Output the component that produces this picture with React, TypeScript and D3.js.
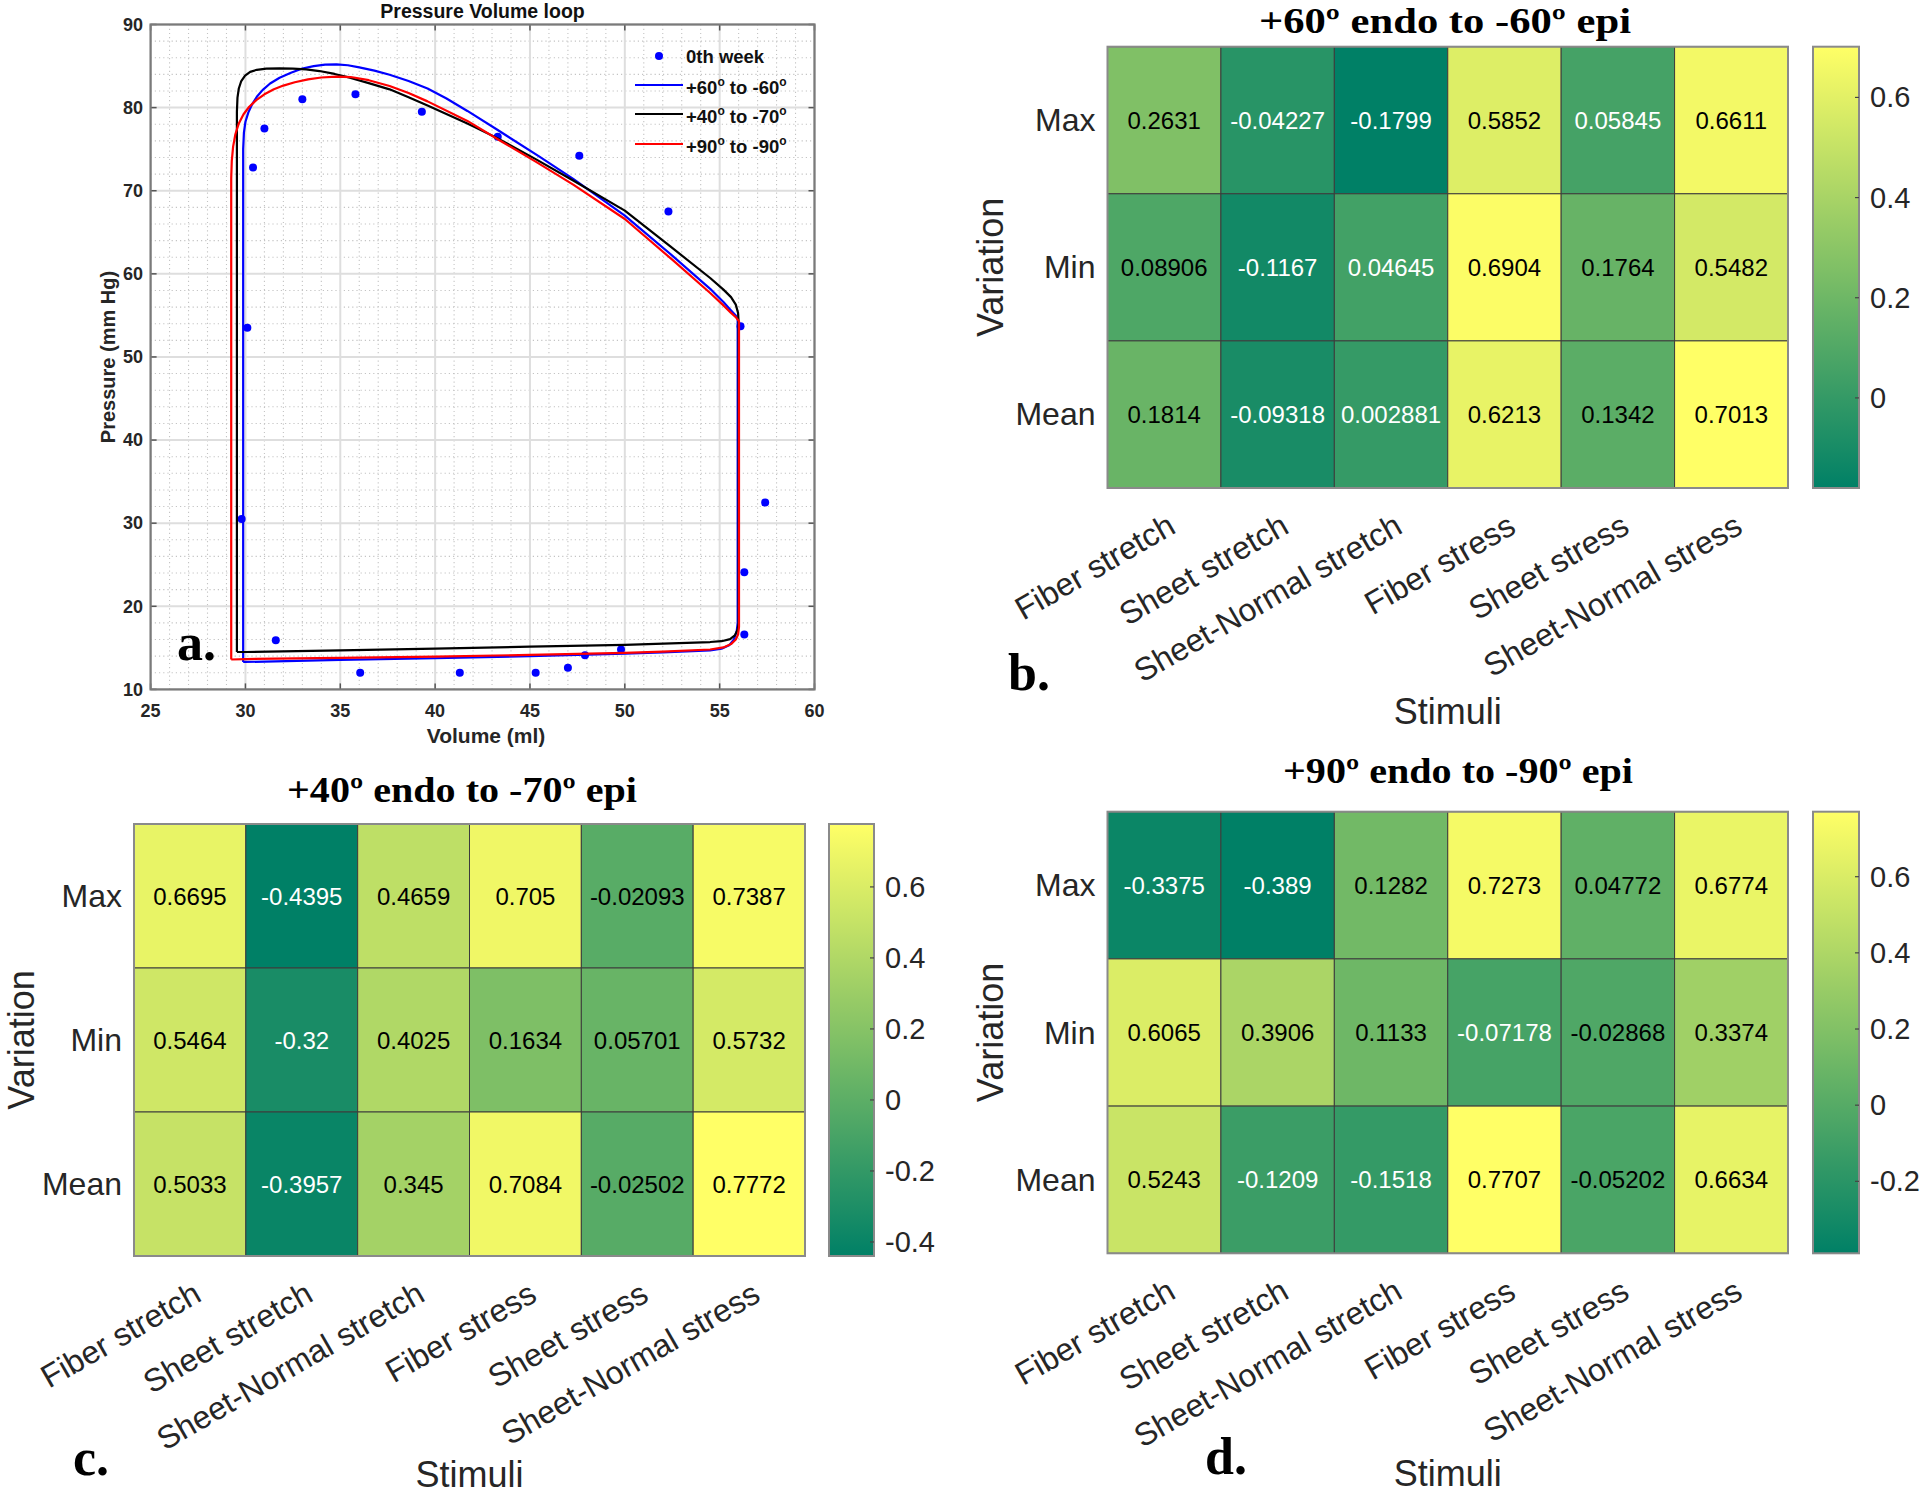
import React from "react";
import * as d3 from "d3";

// ---------- Panel a data ----------
const VOLUME_TICKS = [25, 30, 35, 40, 45, 50, 55, 60];
const PRESSURE_TICKS = [10, 20, 30, 40, 50, 60, 70, 80, 90];
const VOLUME_MINOR = d3.range(25, 61, 1);
const PRESSURE_MINOR = d3.range(10, 91, 2);

const week0Volume = [29.8, 30.1, 30.4, 31.0, 33.0, 35.8, 39.3, 43.3, 47.6, 52.3, 56.1, 57.4, 56.3, 56.3, 49.8, 47.9, 47.0, 45.3, 41.3, 36.05, 31.6];
const week0Pressure = [30.5, 53.5, 72.8, 77.5, 81.0, 81.6, 79.5, 76.5, 74.2, 67.5, 53.7, 32.5, 24.1, 16.6, 14.8, 14.1, 12.6, 12.0, 12.0, 12.0, 15.9];

const blueV = [29.88, 29.88, 29.92, 30.0, 30.15, 30.35, 30.6, 30.9, 31.3, 31.8, 32.4, 33.0, 33.6, 34.2, 34.8, 35.4, 36.0, 36.8, 37.6, 38.6, 39.6, 40.6, 41.7, 43.3, 45.5, 47.3, 50.0, 52.5, 54.5, 55.2, 55.6, 55.85, 55.95, 55.95, 55.9, 55.75, 55.5, 55.1, 54.5, 52.0, 50.0, 45.0, 40.0, 35.0, 30.0, 29.88];
const blueP = [13.3, 75.0, 77.0, 78.3, 79.4, 80.4, 81.3, 82.1, 82.9, 83.6, 84.2, 84.7, 85.0, 85.17, 85.2, 85.1, 84.85, 84.45, 83.95, 83.2, 82.3, 81.1, 79.6, 77.3, 74.1, 71.4, 67.0, 62.2, 58.2, 56.6, 55.6, 55.0, 54.5, 18.0, 17.0, 16.0, 15.3, 14.9, 14.7, 14.45, 14.3, 14.0, 13.75, 13.55, 13.3, 13.3];

const blackV = [29.55, 29.55, 29.58, 29.65, 29.78, 29.98, 30.25, 30.6, 31.1, 31.8, 32.5, 33.2, 33.9, 34.7, 35.5, 36.5, 37.6, 38.6, 39.6, 41.7, 43.3, 45.3, 47.3, 50.0, 52.4, 54.5, 55.2, 55.6, 55.85, 55.97, 56.0, 56.0, 55.95, 55.8, 55.55, 55.1, 54.5, 50.0, 45.0, 40.0, 35.0, 30.0, 29.55];
const blackP = [14.5, 79.5, 81.2, 82.3, 83.2, 83.85, 84.3, 84.55, 84.68, 84.72, 84.7, 84.6, 84.4, 84.05, 83.6, 82.95, 82.2, 81.25, 80.25, 78.1, 76.3, 73.8, 71.2, 67.6, 63.3, 59.5, 58.1, 57.2, 56.3, 55.3, 54.2, 18.0, 17.2, 16.5, 16.05, 15.8, 15.7, 15.35, 15.15, 14.9, 14.7, 14.5, 14.5];

const redV = [29.25, 29.25, 29.28, 29.35, 29.47, 29.65, 29.9, 30.2, 30.57, 31.0, 31.5, 32.0, 32.6, 33.3, 34.0, 34.8, 35.55, 36.5, 37.6, 38.6, 39.6, 41.7, 43.3, 45.3, 47.3, 50.0, 52.5, 54.5, 55.2, 55.6, 55.85, 56.02, 56.02, 55.97, 55.85, 55.6, 55.2, 54.5, 52.0, 50.0, 45.0, 40.0, 35.0, 30.0, 29.25];
const redP = [13.6, 71.5, 73.6, 75.3, 76.8, 78.1, 79.2, 80.1, 80.9, 81.6, 82.2, 82.65, 83.05, 83.4, 83.62, 83.72, 83.68, 83.3, 82.6, 81.75, 80.75, 78.4, 76.2, 73.5, 70.7, 66.6, 61.7, 57.7, 56.2, 55.3, 54.8, 54.3, 17.5, 16.6, 16.0, 15.45, 15.05, 14.8, 14.55, 14.4, 14.15, 13.95, 13.8, 13.65, 13.6];

// ---------- Heatmap data ----------
const STIMULI = ["Fiber stretch", "Sheet stretch", "Sheet-Normal stretch", "Fiber stress", "Sheet stress", "Sheet-Normal stress"];
const VARIATIONS = ["Max", "Min", "Mean"];

const valuesB = [
  [0.2631, -0.04227, -0.1799, 0.5852, 0.05845, 0.6611],
  [0.08906, -0.1167, 0.04645, 0.6904, 0.1764, 0.5482],
  [0.1814, -0.09318, 0.002881, 0.6213, 0.1342, 0.7013],
];
const valuesC = [
  [0.6695, -0.4395, 0.4659, 0.705, -0.02093, 0.7387],
  [0.5464, -0.32, 0.4025, 0.1634, 0.05701, 0.5732],
  [0.5033, -0.3957, 0.345, 0.7084, -0.02502, 0.7772],
];
const valuesD = [
  [-0.3375, -0.389, 0.1282, 0.7273, 0.04772, 0.6774],
  [0.6065, 0.3906, 0.1133, -0.07178, -0.02868, 0.3374],
  [0.5243, -0.1209, -0.1518, 0.7707, -0.05202, 0.6634],
];
const ticksB = [0, 0.2, 0.4, 0.6];
const ticksC = [-0.4, -0.2, 0, 0.2, 0.4, 0.6];
const ticksD = [-0.2, 0, 0.2, 0.4, 0.6];

const SANS = "'Liberation Sans', Arial, Helvetica, sans-serif";
const SERIF = "'Liberation Serif', 'Times New Roman', serif";
const LOW = "rgb(0,128,102)";
const HIGH = "rgb(255,255,102)";

function PVLoop() {
  const x = d3.scaleLinear().domain([25, 60]).range([150.6, 814.5]);
  const y = d3.scaleLinear().domain([10, 90]).range([689.4, 24.5]);
  const mk = (V: number[], P: number[]) =>
    d3.line<number>().x((i) => x(V[i])).y((i) => y(P[i])).curve(d3.curveLinear)(d3.range(V.length)) || "";
  const [x0, x1] = x.range();
  const [y0, y1] = [y(10), y(90)];
  const legendRows = [56, 85, 114, 144];
  return (
    <g>
      {/* minor grid */}
      {VOLUME_MINOR.filter((v) => v % 5 !== 0).map((v) => (
        <line key={"mx" + v} x1={x(v)} x2={x(v)} y1={y1} y2={y0} stroke="#c4c4c4" strokeWidth={1.1} strokeDasharray="1.2,3" />
      ))}
      {PRESSURE_MINOR.filter((p) => p % 10 !== 0).map((p) => (
        <line key={"my" + p} x1={x0} x2={x1} y1={y(p)} y2={y(p)} stroke="#c4c4c4" strokeWidth={1.1} strokeDasharray="1.2,3" />
      ))}
      {/* major grid */}
      {VOLUME_TICKS.map((v) => (
        <line key={"gx" + v} x1={x(v)} x2={x(v)} y1={y1} y2={y0} stroke="#dedede" strokeWidth={2} />
      ))}
      {PRESSURE_TICKS.map((p) => (
        <line key={"gy" + p} x1={x0} x2={x1} y1={y(p)} y2={y(p)} stroke="#dedede" strokeWidth={2} />
      ))}
      {/* ticks on all sides */}
      {VOLUME_TICKS.map((v) => (
        <g key={"tx" + v}>
          <line x1={x(v)} x2={x(v)} y1={y0} y2={y0 - 6} stroke="#555" strokeWidth={1.5} />
          <line x1={x(v)} x2={x(v)} y1={y1} y2={y1 + 6} stroke="#555" strokeWidth={1.5} />
        </g>
      ))}
      {PRESSURE_TICKS.map((p) => (
        <g key={"ty" + p}>
          <line x1={x0} x2={x0 + 6} y1={y(p)} y2={y(p)} stroke="#555" strokeWidth={1.5} />
          <line x1={x1} x2={x1 - 6} y1={y(p)} y2={y(p)} stroke="#555" strokeWidth={1.5} />
        </g>
      ))}
      <rect x={x0} y={y1} width={x1 - x0} height={y0 - y1} fill="none" stroke="#7a7a7a" strokeWidth={2.2} />
      {/* data points */}
      {week0Volume.map((v, i) => (
        <circle key={"pt" + i} cx={x(v)} cy={y(week0Pressure[i])} r={4} fill="#0000ff" />
      ))}
      <path d={mk(blueV, blueP)} fill="none" stroke="#0000ff" strokeWidth={2.2} strokeLinejoin="round" />
      <path d={mk(blackV, blackP)} fill="none" stroke="#000000" strokeWidth={2.2} strokeLinejoin="round" />
      <path d={mk(redV, redP)} fill="none" stroke="#ff0000" strokeWidth={2.2} strokeLinejoin="round" />
      {/* tick labels */}
      {VOLUME_TICKS.map((v) => (
        <text key={"lx" + v} x={x(v)} y={716.5} textAnchor="middle" fontFamily={SANS} fontWeight="bold" fontSize={18} fill="#262626">
          {v}
        </text>
      ))}
      {PRESSURE_TICKS.map((p) => (
        <text key={"ly" + p} x={143} y={y(p) + 6.3} textAnchor="end" fontFamily={SANS} fontWeight="bold" fontSize={18} fill="#262626">
          {p}
        </text>
      ))}
      <text x={(x0 + x1) / 2} y={18} textAnchor="middle" fontFamily={SANS} fontWeight="bold" fontSize={19.5} fill="#111">
        Pressure Volume loop
      </text>
      <text x={486} y={743} textAnchor="middle" fontFamily={SANS} fontWeight="bold" fontSize={21} fill="#262626">
        Volume (ml)
      </text>
      <text transform={`translate(115,357) rotate(-90)`} textAnchor="middle" fontFamily={SANS} fontWeight="bold" fontSize={20} fill="#262626">
        Pressure (mm Hg)
      </text>
      {/* legend */}
      <circle cx={659} cy={legendRows[0]} r={4} fill="#0000ff" />
      <text x={686} y={legendRows[0] + 7} fontFamily={SANS} fontWeight="bold" fontSize={18.5} fill="#111">
        0th week
      </text>
      {[
        { c: "#0000ff", a: "+60", b: " to -60" },
        { c: "#000000", a: "+40", b: " to -70" },
        { c: "#ff0000", a: "+90", b: " to -90" },
      ].map((d, i) => (
        <g key={"lg" + i}>
          <line x1={635} x2={683} y1={legendRows[i + 1]} y2={legendRows[i + 1]} stroke={d.c} strokeWidth={2.2} />
          <text x={686} y={legendRows[i + 1] + 9} fontFamily={SANS} fontWeight="bold" fontSize={18.5} fill="#111">
            {d.a}
            <tspan dy={-8} fontSize={12}>o</tspan>
            <tspan dy={8}>{d.b}</tspan>
            <tspan dy={-8} fontSize={12}>o</tspan>
          </text>
        </g>
      ))}
      <text x={177} y={660} fontFamily={SERIF} fontWeight="bold" fontSize={52} fill="#000">
        a.
      </text>
    </g>
  );
}

type Layout = {
  x0: number; x1: number; y0: number; y1: number; cb0: number; cb1: number;
  titleX: number; titleY: number; titleW: number; labelX: number; labelY: number; stimY: number; varX: number;
};

function Heatmap({ id, lay, values, ticks, titleA, titleB, label }: { id: string; lay: Layout; values: number[][]; ticks: number[]; titleA: string; titleB: string; label: string }) {
  const flat = values.flat();
  const vmin = d3.min(flat) as number;
  const vmax = d3.max(flat) as number;
  const xb = d3.scaleBand<string>().domain(STIMULI).range([lay.x0, lay.x1]);
  const yb = d3.scaleBand<string>().domain(VARIATIONS).range([lay.y0, lay.y1]);
  const tScale = d3.scaleLinear().domain([vmin, vmax]).range([0, 1]);
  const interp = d3.interpolateRgb(LOW, HIGH);
  const color = (v: number) => interp(tScale(v));
  const cbY = d3.scaleLinear().domain([vmin, vmax]).range([lay.y1, lay.y0]);
  const stops = d3.range(0, 1.0001, 0.1);
  const cx = (s: string) => (xb(s) as number) + xb.bandwidth() / 2;
  return (
    <g>
      <defs>
        <linearGradient id={"grad" + id} x1="0" y1="1" x2="0" y2="0">
          {stops.map((s) => (
            <stop key={s} offset={s} stopColor={interp(s)} />
          ))}
        </linearGradient>
      </defs>
      {VARIATIONS.map((r, ri) =>
        STIMULI.map((c, ci) => {
          const v = values[ri][ci];
          return (
            <g key={r + c}>
              <rect x={xb(c)} y={yb(r)} width={xb.bandwidth()} height={yb.bandwidth()} fill={color(v)} stroke="#3c3c3c" strokeWidth={1} />
              <text x={cx(c)} y={(yb(r) as number) + yb.bandwidth() / 2 + 8.5} textAnchor="middle" fontFamily={SANS} fontSize={24} fill={tScale(v) < 0.28 ? "#ffffff" : "#000000"}>
                {String(v)}
              </text>
            </g>
          );
        })
      )}
      <rect x={lay.x0} y={lay.y0} width={lay.x1 - lay.x0} height={lay.y1 - lay.y0} fill="none" stroke="#8a8a8a" strokeWidth={2} />
      {/* row labels */}
      {VARIATIONS.map((r) => (
        <text key={"rl" + r} x={lay.x0 - 12} y={(yb(r) as number) + yb.bandwidth() / 2 + 11} textAnchor="end" fontFamily={SANS} fontSize={32} fill="#262626">
          {r}
        </text>
      ))}
      {/* column labels */}
      {STIMULI.map((c) => (
        <text key={"cl" + c} transform={`translate(${cx(c) + 8},${lay.y1 + 35}) rotate(-30)`} textAnchor="end" dy="0.32em" fontFamily={SANS} fontSize={32} fill="#262626">
          {c}
        </text>
      ))}
      <text transform={`translate(${lay.varX},${(lay.y0 + lay.y1) / 2}) rotate(-90)`} textAnchor="middle" fontFamily={SANS} fontSize={36} fill="#262626">
        Variation
      </text>
      <text x={(lay.x0 + lay.x1) / 2} y={lay.stimY} textAnchor="middle" fontFamily={SANS} fontSize={36} fill="#262626">
        Stimuli
      </text>
      {/* colorbar */}
      <rect x={lay.cb0} y={lay.y0} width={lay.cb1 - lay.cb0} height={lay.y1 - lay.y0} fill={`url(#grad${id})`} stroke="#8a8a8a" strokeWidth={2} />
      {ticks.map((tk) => (
        <g key={"cb" + tk}>
          <line x1={lay.cb1 - 4} x2={lay.cb1} y1={cbY(tk)} y2={cbY(tk)} stroke="#444" strokeWidth={1.2} />
          <text x={lay.cb1 + 11} y={cbY(tk) + 10} fontFamily={SANS} fontSize={29} fill="#262626">
            {String(tk)}
          </text>
        </g>
      ))}
      {/* title */}
      <text x={lay.titleX} y={lay.titleY} textAnchor="middle" fontFamily={SERIF} fontWeight="bold" fontSize={36} fill="#000" textLength={lay.titleW} lengthAdjust="spacingAndGlyphs">
        {titleA}
        <tspan>º</tspan>
        {" endo to " + titleB}
        <tspan>º</tspan>
        {" epi"}
      </text>
      <text x={lay.labelX} y={lay.labelY} fontFamily={SERIF} fontWeight="bold" fontSize={52} fill="#000">
        {label}
      </text>
    </g>
  );
}

const layoutB: Layout = { x0: 1107.5, x1: 1788, y0: 46.7, y1: 488, cb0: 1813, cb1: 1859, titleX: 1445, titleY: 32.5, titleW: 372, labelX: 1008, labelY: 690, stimY: 724, varX: 1003 };
const layoutC: Layout = { x0: 134, x1: 805, y0: 824, y1: 1256, cb0: 829, cb1: 874, titleX: 462, titleY: 802, titleW: 350, labelX: 73, labelY: 1475, stimY: 1487, varX: 34 };
const layoutD: Layout = { x0: 1107.5, x1: 1788, y0: 811.7, y1: 1253.3, cb0: 1813, cb1: 1859, titleX: 1458, titleY: 783, titleW: 350, labelX: 1205, labelY: 1474, stimY: 1486, varX: 1003 };

export default function App() {
  return (
    <svg width={1920} height={1498} style={{ position: "absolute", left: 0, top: 0, background: "#fff" }}>
      <rect x={0} y={0} width={1920} height={1498} fill="#fff" />
      <PVLoop />
      <Heatmap id="b" lay={layoutB} values={valuesB} ticks={ticksB} titleA="+60" titleB="-60" label="b." />
      <Heatmap id="c" lay={layoutC} values={valuesC} ticks={ticksC} titleA="+40" titleB="-70" label="c." />
      <Heatmap id="d" lay={layoutD} values={valuesD} ticks={ticksD} titleA="+90" titleB="-90" label="d." />
    </svg>
  );
}
